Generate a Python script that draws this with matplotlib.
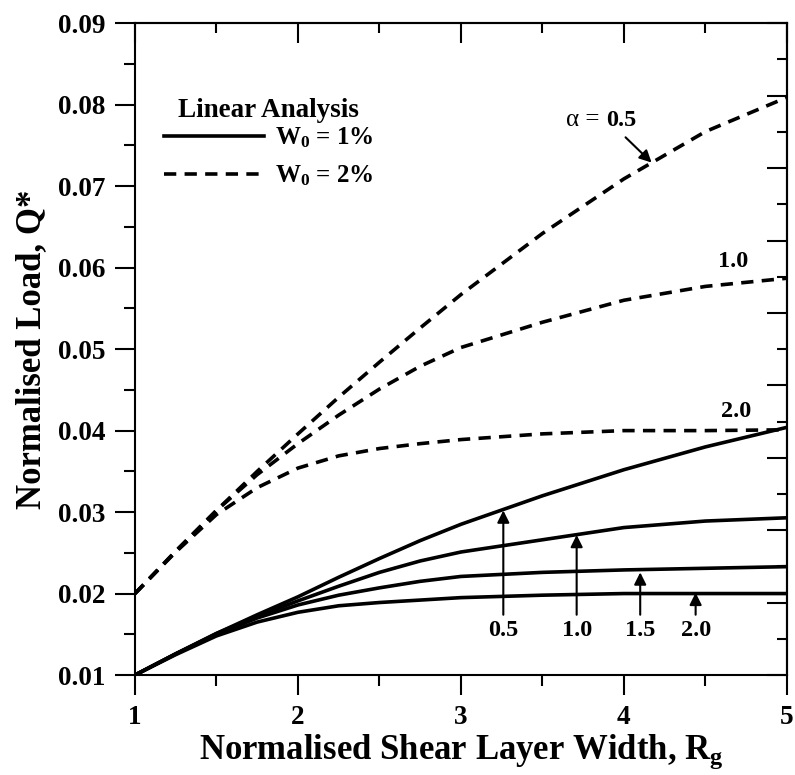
import numpy as np
import matplotlib.pyplot as plt
from matplotlib.lines import Line2D
from matplotlib.ticker import MultipleLocator

plt.rcParams['font.family'] = ['Liberation Serif', 'DejaVu Serif']
plt.rcParams['font.weight'] = 'bold'
plt.rcParams['axes.labelweight'] = 'bold'
plt.rcParams['mathtext.fontset'] = 'custom'
plt.rcParams['mathtext.rm'] = 'Liberation Serif:bold'
plt.rcParams['mathtext.bf'] = 'Liberation Serif:bold'
plt.rcParams['mathtext.it'] = 'Liberation Serif:italic'

# normalised shear layer width
rg = [1.0, 1.25, 1.5, 1.75, 2.0, 2.25, 2.5, 2.75, 3.0, 3.5, 4.0, 4.5, 5.0]

# W0 = 1% (solid), one list per alpha
q1_a05 = [0.0100, 0.0126, 0.0151, 0.0174, 0.0196, 0.0220, 0.0243, 0.0265, 0.0285, 0.0320, 0.0352, 0.0380, 0.0404]
q1_a10 = [0.0100, 0.0126, 0.0151, 0.0172, 0.0191, 0.0209, 0.0226, 0.0240, 0.0251, 0.0266, 0.0281, 0.0289, 0.0293]
q1_a15 = [0.0100, 0.0126, 0.0150, 0.0170, 0.0186, 0.0198, 0.0207, 0.0215, 0.0221, 0.0226, 0.0229, 0.0231, 0.0233]
q1_a20 = [0.0100, 0.0125, 0.0148, 0.0165, 0.0177, 0.0185, 0.0189, 0.0192, 0.0195, 0.0198, 0.0200, 0.0200, 0.0200]

# W0 = 2% (dashed)
q2_a05 = [0.0200, 0.0252, 0.0302, 0.0350, 0.0396, 0.0441, 0.0484, 0.0526, 0.0567, 0.0642, 0.0709, 0.0767, 0.0809]
q2_a10 = [0.0200, 0.0252, 0.0302, 0.0346, 0.0384, 0.0419, 0.0451, 0.0479, 0.0502, 0.0533, 0.0560, 0.0577, 0.0587]
q2_a20 = [0.0200, 0.0251, 0.0297, 0.0330, 0.0354, 0.0369, 0.0378, 0.0384, 0.0389, 0.0396, 0.0400, 0.0400, 0.0401]

# arrow labels for the solid curves: (label, x, y of text, y of arrow tip)
solid_labels = [("0.5", 3.26, 0.0155, 0.0302),
                ("1.0", 3.71, 0.0155, 0.0272),
                ("1.5", 4.10, 0.0155, 0.0226),
                ("2.0", 4.44, 0.0155, 0.0201)]

LW = 2.6
DASH = (3.4, 2.3)

fig = plt.figure(figsize=(7.95, 7.75), dpi=100)
ax = fig.add_axes([0.1698, 0.129, 0.820, 0.841])

for q in [q1_a05, q1_a10, q1_a15, q1_a20]:
    ax.plot(rg, q, color='k', lw=LW)
for q in [q2_a05, q2_a10, q2_a20]:
    ax.plot(rg, q, color='k', lw=LW, dashes=DASH)

ax.set_xlim(1, 5)
ax.set_ylim(0.01, 0.09)
ax.xaxis.set_major_locator(MultipleLocator(1))
ax.xaxis.set_minor_locator(MultipleLocator(0.5))
ax.yaxis.set_major_locator(MultipleLocator(0.01))
ax.yaxis.set_minor_locator(MultipleLocator(0.005))
ax.xaxis.set_major_formatter(plt.FuncFormatter(lambda v, p: "%d" % v))
ax.yaxis.set_major_formatter(plt.FuncFormatter(lambda v, p: "%.2f" % v))
ax.tick_params(which='both', direction='out', width=1.5, labelsize=19.5, top=False, right=False)
ax.tick_params(which='major', length=14.5, pad=7)
ax.tick_params(which='minor', length=8)
for s in ax.spines.values():
    s.set_linewidth(1.5)

# inward ticks on top and right (right scale runs 0 - 0.09 in the original)
top = ax.secondary_xaxis('top')
top.xaxis.set_major_locator(MultipleLocator(1))
top.xaxis.set_minor_locator(MultipleLocator(0.5))
top.tick_params(which='both', direction='in', width=1.5, labeltop=False)
top.tick_params(which='major', length=14.5)
top.tick_params(which='minor', length=7.5)
top.spines['top'].set_linewidth(1.5)
right = ax.secondary_yaxis('right', functions=(lambda y: (y - 0.01) * 0.09 / 0.08,
                                               lambda r: r * 0.08 / 0.09 + 0.01))
right.yaxis.set_major_locator(MultipleLocator(0.01))
right.yaxis.set_minor_locator(MultipleLocator(0.005))
right.tick_params(which='both', direction='in', width=1.5, labelright=False)
right.tick_params(which='major', length=14.5)
right.tick_params(which='minor', length=7.5)
right.spines['right'].set_linewidth(1.5)

ax.set_xlabel(r'Normalised Shear Layer Width, R$_\mathbf{g}$', fontsize=25, labelpad=2)
ax.set_ylabel('Normalised Load, Q*', fontsize=25, labelpad=7)

# legend
handles = [Line2D([], [], color='k', lw=LW),
           Line2D([], [], color='k', lw=LW, dashes=DASH)]
leg = ax.legend(handles, [r'W$_\mathbf{0}$ = 1%', r'W$_\mathbf{0}$ = 2%'],
                title='Linear Analysis', frameon=False, loc='upper left',
                bbox_to_anchor=(0.025, 0.905), fontsize=18, handlelength=4.0,
                handletextpad=0.45, labelspacing=0.55, borderpad=0)
leg.get_title().set_fontsize(19.5)
leg.get_title().set_fontweight('bold')
leg._legend_box.sep = 2

# curve labels
arrow = dict(arrowstyle='-|>', color='k', lw=1.5, mutation_scale=18, shrinkA=0, shrinkB=0)
for lab, xv, yt, yp in solid_labels:
    ax.annotate('', xy=(xv, yp), xytext=(xv, yt + 0.0019), arrowprops=arrow)
    ax.text(xv, yt, lab, fontsize=17.5, ha='center', va='center')

ax.annotate('', xy=(4.17, 0.0729), xytext=(4.01, 0.0760), arrowprops=arrow)
ax.text(3.89, 0.0781, 'α = ', fontsize=18, ha='right', va='center', fontweight='normal')
ax.text(3.89, 0.0781, '0.5', fontsize=17.5, ha='left', va='center')
ax.text(4.67, 0.0607, '1.0', fontsize=17.5, ha='center', va='center')
ax.text(4.69, 0.0424, '2.0', fontsize=17.5, ha='center', va='center')

fig.savefig('out.png', dpi=100)
